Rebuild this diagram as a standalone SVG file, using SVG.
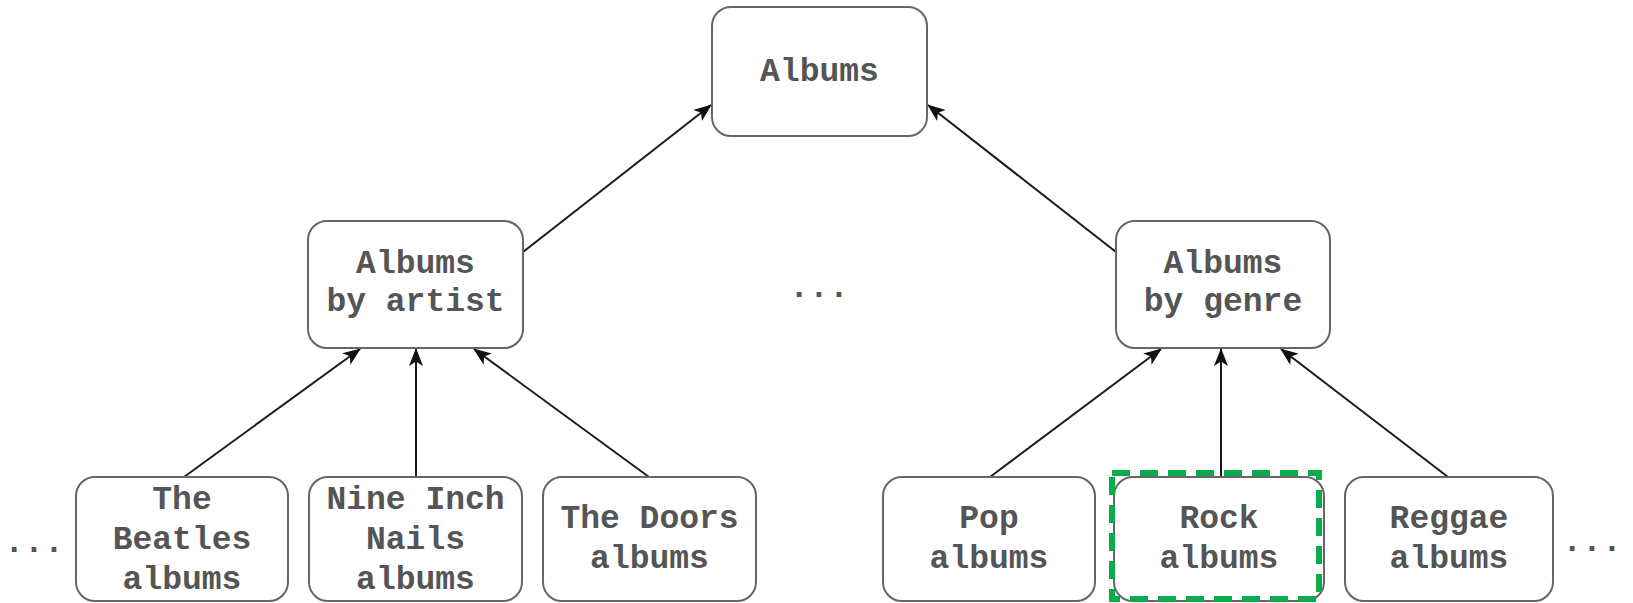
<svg xmlns="http://www.w3.org/2000/svg" width="1633" height="603" viewBox="0 0 1633 603">
  <style>
    .box { fill: #ffffff; stroke: #666666; stroke-width: 2; }
    .lbl { font-family: "Liberation Mono", "Courier New", monospace; font-weight: bold; font-size: 33px; fill: #555555; text-anchor: middle; }
    .edge { stroke: #1a1a1a; stroke-width: 2; fill: none; marker-end: url(#arrow); }
    .sel { fill: none; stroke: #0aab4a; stroke-width: 6; stroke-dasharray: 18 10; }
  </style>
  <defs>
    <marker id="arrow" viewBox="0 0 18 14" refX="17" refY="7" markerWidth="18" markerHeight="14" markerUnits="userSpaceOnUse" orient="auto">
      <path d="M0,0 L18,7 L0,14 L4.5,7 z" fill="#111111"/>
    </marker>
  </defs>
  <rect width="1633" height="603" fill="#ffffff"/>

  <!-- connectors: child to parent -->
  <g id="connectors">
    <line class="edge" x1="523" y1="252" x2="711" y2="105"/>
    <line class="edge" x1="1116" y1="252" x2="928" y2="105"/>
    <line class="edge" x1="184" y1="477" x2="360" y2="349"/>
    <line class="edge" x1="416" y1="477" x2="416" y2="349"/>
    <line class="edge" x1="649" y1="477" x2="474" y2="349"/>
    <line class="edge" x1="990" y1="477" x2="1161" y2="349"/>
    <line class="edge" x1="1221" y1="477" x2="1221" y2="349"/>
    <line class="edge" x1="1448" y1="477" x2="1281" y2="349"/>
  </g>

  <g id="albums">
    <rect class="box" x="712" y="7" width="215" height="129" rx="19"/>
    <text class="lbl" x="819.5" y="81">Albums</text>
  </g>

  <g id="by-artist">
    <rect class="box" x="308" y="221" width="215" height="127" rx="19"/>
    <text class="lbl" x="415.5" y="273">Albums</text>
    <text class="lbl" x="415.5" y="311">by artist</text>
  </g>

  <g id="by-genre">
    <rect class="box" x="1116" y="221" width="214" height="127" rx="19"/>
    <text class="lbl" x="1223" y="273">Albums</text>
    <text class="lbl" x="1223" y="311">by genre</text>
  </g>

  <g id="gap-middle">
    <text class="lbl" x="819" y="297">...</text>
  </g>

  <g id="gap-left">
    <text class="lbl" x="34" y="552">...</text>
  </g>

  <g id="beatles">
    <rect class="box" x="76" y="477" width="212" height="124" rx="19"/>
    <text class="lbl" x="182" y="509">The</text>
    <text class="lbl" x="182" y="549">Beatles</text>
    <text class="lbl" x="182" y="589">albums</text>
  </g>

  <g id="nine-inch-nails">
    <rect class="box" x="309" y="477" width="213" height="124" rx="19"/>
    <text class="lbl" x="415.5" y="509">Nine Inch</text>
    <text class="lbl" x="415.5" y="549">Nails</text>
    <text class="lbl" x="415.5" y="589">albums</text>
  </g>

  <g id="the-doors">
    <rect class="box" x="543" y="477" width="213" height="124" rx="19"/>
    <text class="lbl" x="649.5" y="528">The Doors</text>
    <text class="lbl" x="649.5" y="568">albums</text>
  </g>

  <g id="pop">
    <rect class="box" x="883" y="477" width="212" height="124" rx="19"/>
    <text class="lbl" x="989" y="528">Pop</text>
    <text class="lbl" x="989" y="568">albums</text>
  </g>

  <g id="rock">
    <rect class="box" x="1114" y="477" width="210" height="124" rx="19"/>
    <text class="lbl" x="1219" y="528">Rock</text>
    <text class="lbl" x="1219" y="568">albums</text>
    <rect class="sel" x="1112" y="473" width="207" height="126"/>
  </g>

  <g id="reggae">
    <rect class="box" x="1345" y="477" width="208" height="124" rx="19"/>
    <text class="lbl" x="1449" y="528">Reggae</text>
    <text class="lbl" x="1449" y="568">albums</text>
  </g>

  <g id="gap-right">
    <text class="lbl" x="1592" y="551">...</text>
  </g>
</svg>
